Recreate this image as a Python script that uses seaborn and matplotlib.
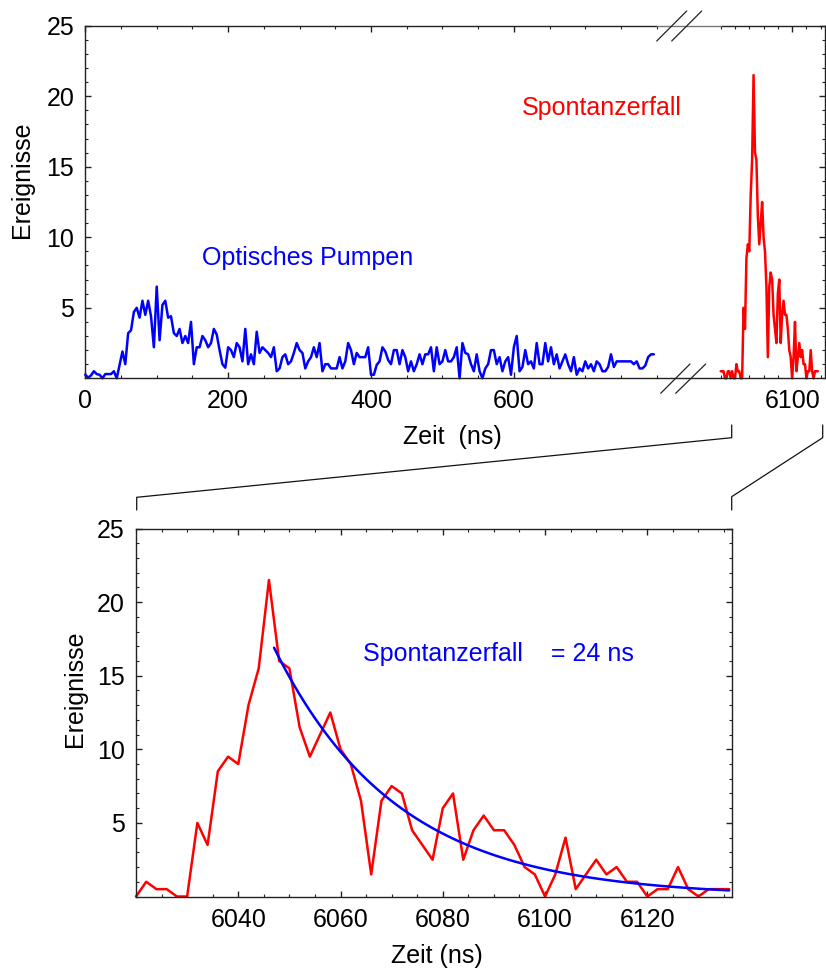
import numpy as np
import pandas as pd
import matplotlib
matplotlib.use("Agg")
import matplotlib.pyplot as plt
from matplotlib.lines import Line2D
from matplotlib.ticker import FixedLocator, MultipleLocator
import seaborn as sns

# --- data -----------------------------------------------------------------
# optical pumping phase: counts in 4 ns bins starting at 0 ns
pump_bin_ns = 4
pump_counts = [
    0.25, 0.05, 0.2, 0.5, 0.3, 0.25, 0.0, 0.3, 0.3, 0.3,
    0.5, 0.0, 0.95, 1.9, 1.0, 3.2, 3.4, 4.7, 5.0, 4.3,
    5.5, 4.5, 5.5, 4.4, 2.2, 6.5, 2.7, 5.2, 5.5, 4.3,
    4.4, 3.2, 3.0, 3.5, 2.5, 3.0, 2.5, 4.0, 1.0, 2.2,
    2.2, 3.0, 2.7, 2.2, 2.5, 3.5, 3.1, 2.0, 1.0, 0.75,
    2.2, 2.0, 1.5, 2.5, 2.2, 1.2, 3.5, 1.0, 1.7, 1.0,
    3.3, 1.8, 2.2, 2.0, 1.8, 1.5, 2.2, 0.5, 0.7, 1.5,
    1.7, 1.0, 1.2, 1.8, 2.5, 2.0, 1.8, 0.7, 1.2, 1.5,
    2.2, 1.5, 2.5, 0.5, 1.0, 1.0, 0.7, 0.7, 0.7, 1.5,
    0.7, 1.2, 2.5, 2.0, 1.0, 1.8, 1.5, 1.5, 1.5, 2.2,
    0.25, 0.25, 0.95, 1.2, 2.2, 1.9, 1.3, 1.0, 2.0, 2.0,
    1.0, 2.0, 1.5, 0.5, 1.2, 0.5, 1.0, 1.7, 1.0, 1.7,
    1.7, 2.2, 0.5, 2.2, 1.0, 1.2, 2.0, 1.2, 1.2, 1.5,
    2.2, 0.0, 2.5, 1.8, 1.7, 1.0, 0.5, 1.7, 0.5, 0.0,
    0.7, 1.0, 2.0, 2.0, 1.0, 1.5, 0.5, 1.2, 1.5, 0.25,
    2.2, 3.0, 0.5, 0.8, 2.0, 1.0, 1.2, 0.7, 2.5, 1.0,
    1.0, 2.5, 1.2, 2.2, 1.0, 1.7, 0.7, 1.2, 1.7, 1.0,
    0.5, 1.5, 0.25, 0.7, 0.5, 1.2, 0.7, 1.0, 0.5, 1.2,
    1.0, 0.5, 0.5, 0.8, 1.7, 0.8, 1.2, 1.2, 1.2, 1.2,
    1.2, 1.2, 1.0, 1.2, 0.7, 0.7, 0.9, 1.5, 1.7, 1.7,
]

# spontaneous decay: counts in 2 ns bins
decay_bin_ns = 2
decay_pre_start_ns = 6000
decay_pre_counts = [0.5, 0.5, 0.5, 0.0, 0.0, 0.5, 0.5, 0.0, 0.5, 0.0]
decay_start_ns = 6020
decay_counts = [
    0.0, 1.0, 0.5, 0.5, 0.0, 0.0, 5.0, 3.5, 8.5, 9.5,
    9.0, 13.0, 15.5, 21.5, 16.0, 15.5, 11.5, 9.5, 11.0, 12.5,
    10.0, 9.0, 6.5, 1.5, 6.5, 7.5, 7.0, 4.5, 3.5, 2.5,
    6.0, 7.0, 2.5, 4.5, 5.5, 4.5, 4.5, 3.5, 2.0, 1.5,
    0.0, 1.5, 4.0, 0.5, 1.5, 2.5, 1.5, 2.0, 1.0, 1.0,
    0.0, 0.5, 0.5, 2.0, 0.5, 0.0, 0.5, 0.5, 0.5,
]

# exponential decay fit
tau_ns = 24
fit_amplitude = 16.9
fit_start_ns = 6047
fit_end_ns = 6136

x_ticks_pump = [0, 200, 400, 600]
x_ticks_decay_overview = [6100]
x_ticks_decay = [6040, 6060, 6080, 6100, 6120]
y_ticks = [5, 10, 15, 20, 25]

# --- frames ---------------------------------------------------------------
pump_df = pd.DataFrame({
    "t": np.arange(len(pump_counts)) * pump_bin_ns,
    "n": pump_counts,
})
all_decay = decay_pre_counts + decay_counts
decay_full_df = pd.DataFrame({
    "t": decay_pre_start_ns + np.arange(len(all_decay)) * decay_bin_ns,
    "n": all_decay,
})
decay_df = pd.DataFrame({
    "t": decay_start_ns + np.arange(len(decay_counts)) * decay_bin_ns,
    "n": decay_counts,
})
fit_t = np.arange(fit_start_ns, fit_end_ns + 1, 1.0)
fit_df = pd.DataFrame({
    "t": fit_t,
    "n": fit_amplitude * np.exp(-(fit_t - fit_start_ns) / tau_ns),
})

# --- style ----------------------------------------------------------------
sns.set_style("ticks")
plt.rcParams["font.family"] = ["Liberation Sans", "DejaVu Sans"]
plt.rcParams["font.size"] = 18
for key in ("text.color", "axes.labelcolor", "xtick.labelcolor",
            "ytick.labelcolor"):
    plt.rcParams[key] = "black"

BLUE = "#0000ff"
RED = "#ff0000"
SPINE = "#222222"
FS = 18

W, H = 826, 973
fig = plt.figure(figsize=(W / 100, H / 100), dpi=100)
fig.patch.set_facecolor("white")


def rect(x0, y0, x1, y1):
    return [x0 / W, 1 - y1 / H, (x1 - x0) / W, (y1 - y0) / H]


def fig_line(points, **kw):
    xs = [p[0] / W for p in points]
    ys = [1 - p[1] / H for p in points]
    fig.add_artist(Line2D(xs, ys, transform=fig.transFigure, **kw))


ax_l = fig.add_axes(rect(85.3, 25.7, 656.7, 378.3))
ax_r = fig.add_axes(rect(720.7, 25.7, 825.0, 378.3))
ax_b = fig.add_axes(rect(136.0, 528.5, 731.7, 896.5))

lw = 1.8
sns.lineplot(data=pump_df, x="t", y="n", ax=ax_l, color=BLUE, linewidth=lw,
             clip_on=False)
sns.lineplot(data=decay_full_df, x="t", y="n", ax=ax_r, color=RED, linewidth=lw,
             clip_on=False)
sns.lineplot(data=decay_df, x="t", y="n", ax=ax_b, color=RED, linewidth=lw,
             clip_on=False)
sns.lineplot(data=fit_df, x="t", y="n", ax=ax_b, color=BLUE, linewidth=lw,
             clip_on=False)

ax_l.set_xlim(0, 800)
ax_r.set_xlim(6000, 6146)
ax_b.set_xlim(6020, 6136.5)
for ax in (ax_l, ax_r, ax_b):
    ax.set_ylim(0, 25)
    ax.set_xlabel("")
    ax.set_ylabel("")
    for s in ax.spines.values():
        s.set_color(SPINE)
        s.set_linewidth(1.0)
    ax.tick_params(which="both", direction="in", color=SPINE, labelsize=FS,
                   labelcolor="black", pad=8)
    ax.tick_params(which="major", length=4, width=1.0)
    ax.tick_params(which="minor", length=2.5, width=0.8)

# overview, left part
ax_l.spines["right"].set_visible(False)
ax_l.xaxis.set_major_locator(FixedLocator(x_ticks_pump))
ax_l.xaxis.set_minor_locator(MultipleLocator(50))
ax_l.yaxis.set_major_locator(FixedLocator(y_ticks))
ax_l.yaxis.set_minor_locator(MultipleLocator(1))
ax_l.tick_params(which="both", top=True, right=False)

# overview, right part
ax_r.spines["left"].set_visible(False)
ax_r.xaxis.set_major_locator(FixedLocator(x_ticks_decay_overview))
ax_r.xaxis.set_minor_locator(MultipleLocator(20))
ax_r.yaxis.set_major_locator(FixedLocator(y_ticks))
ax_r.yaxis.set_minor_locator(MultipleLocator(1))
ax_r.tick_params(which="both", top=True, left=False, right=True,
                 labelleft=False, labelright=False)

# zoomed decay
ax_b.xaxis.set_major_locator(FixedLocator(x_ticks_decay))
ax_b.xaxis.set_minor_locator(MultipleLocator(5))
ax_b.yaxis.set_major_locator(FixedLocator(y_ticks))
ax_b.yaxis.set_minor_locator(MultipleLocator(1))
ax_b.tick_params(which="both", top=True, right=True)

# annotations
ax_l.text(163.6, 8.5, "Optisches Pumpen", color=BLUE, fontsize=FS,
          ha="left", va="center", clip_on=False)
ax_l.text(610.6, 19.2, "Spontanzerfall", color=RED, fontsize=FS,
          ha="left", va="center", clip_on=False)
ax_b.text(6064.4, 16.5, "Spontanzerfall    = 24 ns", color=BLUE, fontsize=FS,
          ha="left", va="center")

# axis labels
fig.text(452 / W, 1 - 437 / H, "Zeit  (ns)", ha="center", va="center",
         fontsize=FS, color="black")
fig.text(22 / W, 1 - 180 / H, "Ereignisse", ha="center", va="center",
         rotation=90, fontsize=FS, color="black")
fig.text(437 / W, 1 - 956 / H, "Zeit (ns)", ha="center", va="center",
         fontsize=FS, color="black")
fig.text(75 / W, 1 - 689 / H, "Ereignisse", ha="center", va="center",
         rotation=90, fontsize=FS, color="black")

# spines running through the axis break
fig_line([(656.7, 25.7), (720.7, 25.7)], color="#777777", linewidth=1.0)
fig_line([(656.7, 378.3), (720.7, 378.3)], color=SPINE, linewidth=1.0)

# break marks
brk = dict(color="#222222", linewidth=0.9)
fig_line([(656.7, 41), (686.7, 11)], **brk)
fig_line([(671.7, 41), (701.7, 11)], **brk)
fig_line([(660.7, 393.3), (690.0, 364)], **brk)
fig_line([(675.7, 393.3), (705.7, 364)], **brk)

# zoom connector between overview and detail
con = dict(color="#111111", linewidth=0.9)
fig_line([(731.7, 425), (731.7, 437.7), (136.7, 497.3), (136.7, 510)], **con)
fig_line([(822.7, 425), (822.7, 437.7), (731.7, 496.7), (731.7, 510)], **con)

fig.savefig("out.png", dpi=100, facecolor="white")
